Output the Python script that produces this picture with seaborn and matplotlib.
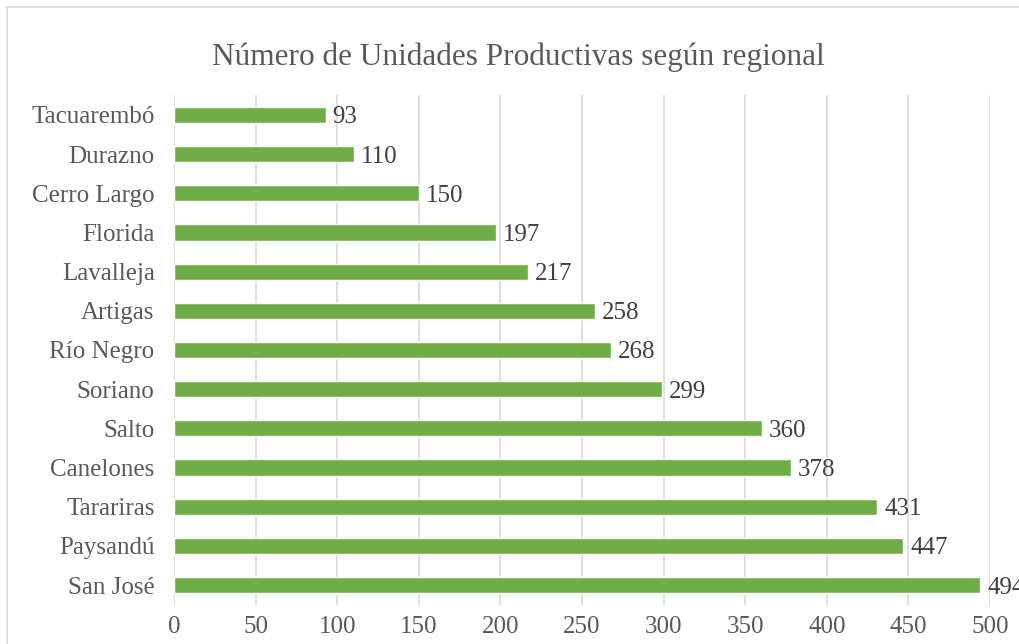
import matplotlib
matplotlib.use("Agg")
import matplotlib.pyplot as plt
import matplotlib.patches as mpatches
import seaborn as sns
import pandas as pd

regionales = ["Tacuarembó", "Durazno", "Cerro Largo", "Florida", "Lavalleja",
              "Artigas", "Río Negro", "Soriano", "Salto", "Canelones",
              "Tarariras", "Paysandú", "San José"]
unidades = [93, 110, 150, 197, 217, 258, 268, 299, 360, 378, 431, 447, 494]
x_ticks = [0, 50, 100, 150, 200, 250, 300, 350, 400, 450, 500]

df = pd.DataFrame({"regional": regionales, "unidades": unidades})

sns.set_style("white")
plt.rcParams["font.family"] = ["Liberation Serif", "DejaVu Serif"]

text_color = "#595959"
bar_color = "#70ad47"

fig = plt.figure(figsize=(10.19, 6.44), dpi=100)
ax = fig.add_axes([0.1708, 0.0612, 0.8007, 0.7907])

sns.barplot(data=df, x="unidades", y="regional", color=bar_color,
            orient="h", width=0.41, saturation=1, ax=ax, zorder=3)

ax.set_xlim(0, 500)
ax.set_ylim(12.5, -0.5)
ax.set_xticks(x_ticks)
ax.grid(axis="x", color="#d9d9d9", linewidth=1.2, zorder=0)
ax.set_axisbelow(True)
for s in ax.spines.values():
    s.set_visible(False)
ax.set_xlabel("")
ax.set_ylabel("")
ax.tick_params(axis="both", length=0, labelsize=18, colors=text_color, pad=8)
ax.tick_params(axis="y", pad=14)

# value labels at the bar ends (the last one runs off the edge, as in the original)
for i, v in enumerate(unidades):
    ax.annotate(str(v), (v, i), xytext=(5, 0), textcoords="offset points",
                va="center_baseline", ha="left", fontsize=18, color="#404040",
                annotation_clip=False)

fig.text(0.509, 0.9115, "Número de Unidades Productivas según regional",
         ha="center", va="center", fontsize=22.5, color=text_color)

# outer chart-area border (cropped at right/bottom like the reference)
border = mpatches.Rectangle((7 / 1019, -0.05), 1.1, 1 - 7 / 644 + 0.05,
                            transform=fig.transFigure, fill=False,
                            edgecolor="#d9d9d9", linewidth=1.2, clip_on=False)
fig.patches.append(border)

fig.savefig("out.png", dpi=100)
